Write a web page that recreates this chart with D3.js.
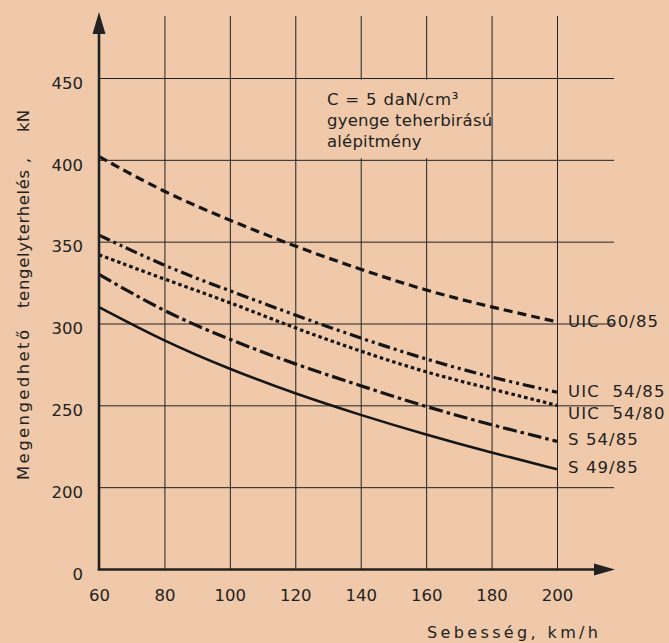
<!DOCTYPE html>
<html>
<head>
<meta charset="utf-8">
<script src="https://cdn.jsdelivr.net/npm/d3@7"></script>
<style>
  html, body { margin: 0; padding: 0; background: #efc9a9; }
  svg { display: block; }
  text { font-family: "DejaVu Sans", sans-serif; fill: #222; }
</style>
</head>
<body>
<svg id="chart" width="669" height="643"></svg>
<script>
// ---- data ----
const speeds = [60, 80, 100, 120, 140, 160, 180, 200];
const uic6085 = [402, 380, 363, 347, 333, 320, 310, 301];
const uic5485 = [354, 335, 320, 305, 291, 278, 267, 258];
const uic5480 = [342, 327, 313, 297, 283, 270, 260, 250];
const s5485   = [330, 307, 290, 275, 262, 249, 238, 228];
const s4985   = [310, 289, 272, 257, 244, 232, 221, 211];
const seriesNames = ["UIC 60/85", "UIC  54/85", "UIC  54/80", "S 54/85", "S 49/85"];
const xTicks = [60, 80, 100, 120, 140, 160, 180, 200];
const yTicks = [150, 200, 250, 300, 350, 400, 450]; // 150 = broken-axis origin, labelled "0"
const yTickLabels = ["0", "200", "250", "300", "350", "400", "450"];
const noteLines = ["C = 5 daN/cm³", "gyenge teherbirású", "alépitmény"];
const xTitle = "Sebesség, km/h";
const yTitleParts = ["Megengedhető", "tengelyterhelés ,", "kN"];

// ---- styles ----
const styles = [
  { dash: "9,5", width: 3.2, labelDy: -1 },
  { dash: "12,4,3,4,3,4", width: 3.2, labelDy: -1 },
  { dash: "3.5,3", width: 3.2, labelDy: 8 },
  { dash: "14,4,3.5,4", width: 3.2, labelDy: -2 },
  { dash: null, width: 2.6, labelDy: -2 }
];
const seriesValues = [uic6085, uic5485, uic5480, s5485, s4985];

const svg = d3.select("#chart");
const x = d3.scaleLinear().domain([60, 200]).range([99, 557]);
const y = d3.scaleLinear().domain([150, 450]).range([569, 78]);
const ink = "#222";
const paper = "#efc9a9";

// vertical gridlines
svg.append("g")
  .attr("transform", "translate(0,569)")
  .call(d3.axisBottom(x).tickValues(xTicks.slice(1)).tickSize(-553).tickFormat(""))
  .call(g => g.select(".domain").remove())
  .call(g => g.selectAll("line").attr("stroke", ink).attr("stroke-width", 1));

// horizontal gridlines
svg.append("g")
  .attr("transform", "translate(99,0)")
  .call(d3.axisRight(y).tickValues(yTicks.slice(1)).tickSize(515).tickFormat(""))
  .call(g => g.select(".domain").remove())
  .call(g => g.selectAll("line").attr("stroke", ink).attr("stroke-width", 1));

// blank area behind the note
svg.append("rect")
  .attr("x", x(121)).attr("y", y(449)).attr("width", x(179) - x(121)).attr("height", y(401) - y(449))
  .attr("fill", paper);

// note text
svg.append("g").selectAll("text").data(noteLines).join("text")
  .attr("x", 327)
  .attr("y", (d, i) => 105 + i * 21)
  .attr("font-size", 16.5)
  .attr("letter-spacing", (d, i) => i === 0 ? 0.8 : 0.2)
  .text(d => d);

// x axis tick labels
svg.append("g")
  .attr("transform", "translate(0,569)")
  .call(d3.axisBottom(x).tickValues(xTicks).tickSize(0).tickPadding(0))
  .call(g => g.select(".domain").remove())
  .call(g => g.selectAll("text")
    .attr("font-family", "DejaVu Sans").attr("font-size", 16.5).attr("fill", ink)
    .attr("dy", 0).attr("y", 32));

// y axis tick labels
svg.append("g")
  .attr("transform", "translate(83,0)")
  .call(d3.axisLeft(y).tickValues(yTicks).tickSize(0).tickPadding(0)
    .tickFormat((d, i) => yTickLabels[i]))
  .call(g => g.select(".domain").remove())
  .call(g => g.selectAll("text")
    .attr("font-family", "DejaVu Sans").attr("font-size", 16.5).attr("fill", ink)
    .attr("dy", "0.62em"));

// curves
const line = d3.line()
  .x((d, i) => x(speeds[i]))
  .y(d => y(d))
  .curve(d3.curveBasis);

svg.append("g").selectAll("path").data(seriesValues).join("path")
  .attr("d", d => line(d))
  .attr("fill", "none")
  .attr("stroke", "#151515")
  .attr("stroke-width", (d, i) => styles[i].width)
  .attr("stroke-dasharray", (d, i) => styles[i].dash)
  .attr("stroke-linecap", "butt");

// series labels
svg.append("g").selectAll("text").data(seriesNames).join("text")
  .attr("x", x(200) + 11)
  .attr("y", (d, i) => y(seriesValues[i][seriesValues[i].length - 1]) + styles[i].labelDy)
  .attr("dy", "0.36em")
  .attr("font-size", 16.5)
  .attr("letter-spacing", 1.1)
  .style("white-space", "pre")
  .text(d => d);

// axes lines with arrows
svg.append("line")
  .attr("x1", x(60)).attr("x2", x(60)).attr("y1", 570).attr("y2", 28)
  .attr("stroke", ink).attr("stroke-width", 2.6);
svg.append("path")
  .attr("d", d3.line()([[x(60) - 6.5, 34], [x(60), 12], [x(60) + 6.5, 34]]) + "Z")
  .attr("fill", ink);
svg.append("line")
  .attr("x1", x(60) - 1.3).attr("x2", 600).attr("y1", 569.5).attr("y2", 569.5)
  .attr("stroke", ink).attr("stroke-width", 2.6);
svg.append("path")
  .attr("d", d3.line()([[594, 563.5], [615, 569.5], [594, 575.5]]) + "Z")
  .attr("fill", ink);

// axis titles
svg.append("text")
  .attr("x", 427).attr("y", 638)
  .attr("font-size", 16)
  .attr("textLength", 171).attr("lengthAdjust", "spacing")
  .text(xTitle);

const yTitleStarts = [480, 308, 132];
const yTitleLens = [150, 150, 22];
svg.append("g").selectAll("text").data(yTitleParts).join("text")
  .attr("transform", (d, i) => `translate(29,${yTitleStarts[i]}) rotate(-90)`)
  .attr("font-size", 16.5)
  .attr("textLength", (d, i) => yTitleLens[i]).attr("lengthAdjust", "spacing")
  .text(d => d);
</script>
</body>
</html>
